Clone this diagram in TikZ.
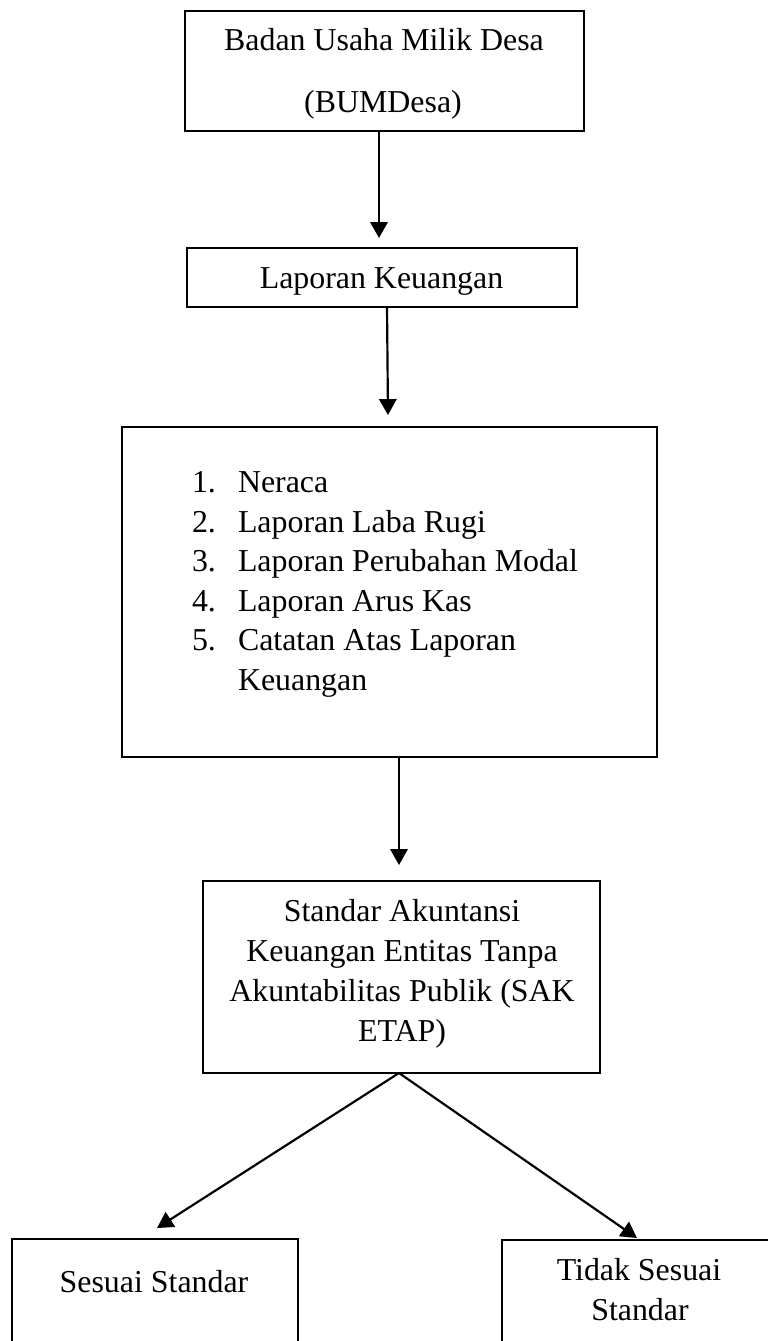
\documentclass[tikz,border=0pt]{standalone}
\usepackage{fontspec}
\setmainfont{Liberation Serif}
\usetikzlibrary{arrows.meta,calc}
\begin{document}
\begin{tikzpicture}[x=0.345pt,y=-0.345pt,
  box/.style={draw,line width=0.75pt,inner sep=0pt,outer sep=0pt,rectangle},
  txt/.style={inner sep=0pt,outer sep=0pt,anchor=base,font=\fontsize{11}{13.8}\selectfont},
  ltxt/.style={txt,anchor=base west},
  arr/.style={line width=0.75pt,-{Triangle[length=5.5pt,width=6pt]}}]
\useasboundingbox (0,0) rectangle (768,1341);
% boxes
\node[box,minimum width=399*0.345pt,minimum height=120*0.345pt] (b1) at (384.5,71) {};
\node[box,minimum width=390*0.345pt,minimum height=59*0.345pt] (b2) at (382,277.5) {};
\node[box,minimum width=535*0.345pt,minimum height=330*0.345pt] (b3) at (389.5,592) {};
\node[box,minimum width=397*0.345pt,minimum height=192*0.345pt] (b4) at (401.5,977) {};
\node[box,minimum width=286*0.345pt,minimum height=141*0.345pt] (b5) at (155,1309.5) {};
\node[box,minimum width=274*0.345pt,minimum height=140*0.345pt] (b6) at (639,1310) {};
% texts
\node[txt] (t1a) at (384,50) {Badan Usaha Milik Desa};
\node[txt] (t1b) at (383,112) {(BUMDesa)};
\node[txt] (t2) at (381.5,288) {Laporan Keuangan};
\node[ltxt] (n1) at (192,492) {1.};
\node[ltxt] (n2) at (192,532) {2.};
\node[ltxt] (n3) at (192,571) {3.};
\node[ltxt] (n4) at (192,611) {4.};
\node[ltxt] (n5) at (192,650) {5.};
\node[ltxt] (l1) at (238,492) {Neraca};
\node[ltxt] (l2) at (238,532) {Laporan Laba Rugi};
\node[ltxt] (l3) at (238,571) {Laporan Perubahan Modal};
\node[ltxt] (l4) at (238,611) {Laporan Arus Kas};
\node[ltxt] (l5) at (238,650) {Catatan Atas Laporan};
\node[ltxt] (l6) at (238,690) {Keuangan};
\node[txt] (t4a) at (402,921) {Standar Akuntansi};
\node[txt] (t4b) at (402,961) {Keuangan Entitas Tanpa};
\node[txt] (t4c) at (402,1001) {Akuntabilitas Publik (SAK};
\node[txt] (t4d) at (402,1041) {ETAP)};
\node[txt] (t5) at (154,1292) {Sesuai Standar};
\node[txt] (t6a) at (639,1280) {Tidak Sesuai};
\node[txt] (t6b) at (640,1320) {Standar};
% connectors
\draw[arr] ($(b1.south)+(-5.5,0)$) -- ($(b2.north)+(-3,-10)$);
\draw[arr] ($(b2.south)+(5,0)$) -- ($(b3.north)+(-1.5,-12)$);
\draw[arr] ($(b3.south)+(9.5,0)$) -- ($(b4.north)+(-2.5,-16)$);
\draw[arr] ($(b4.south)+(-2.5,0)$) -- ($(b5.north)+(2,-11)$);
\draw[arr] ($(b4.south)+(-2.5,0)$) -- ($(b6.north)+(-2,-2)$);
\end{tikzpicture}
\end{document}
